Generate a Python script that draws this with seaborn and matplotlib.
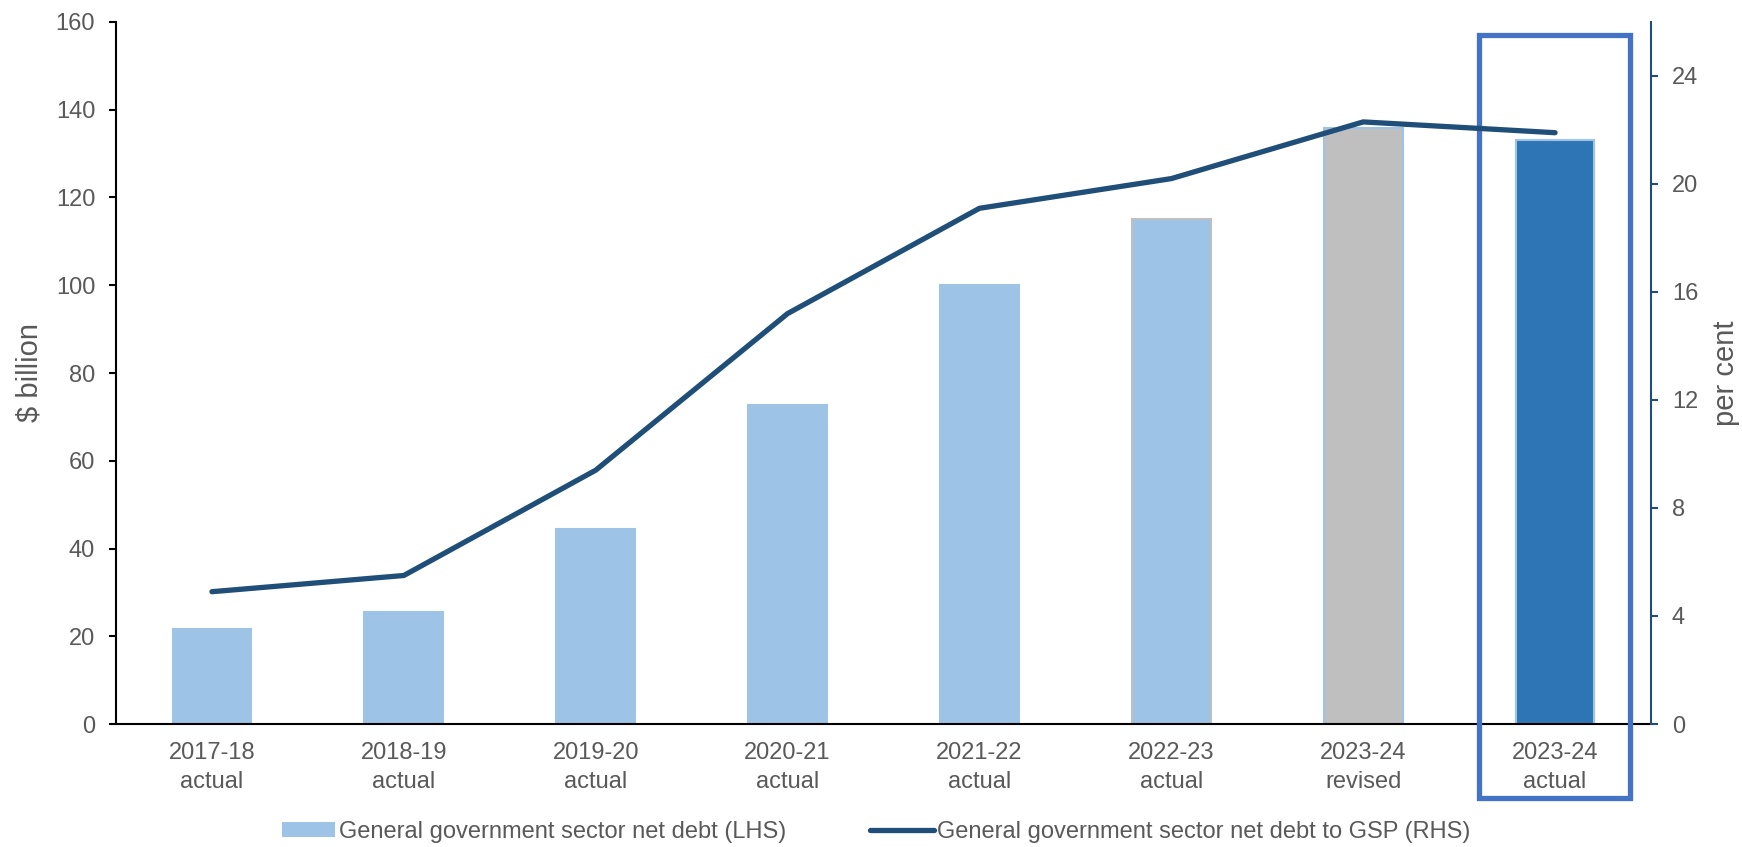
import numpy as np
import pandas as pd
import matplotlib
matplotlib.use("Agg")
import matplotlib.pyplot as plt
import matplotlib.transforms as mtransforms
from matplotlib.patches import Rectangle, Patch
from matplotlib.lines import Line2D
from matplotlib.ticker import FixedLocator, MultipleLocator
import seaborn as sns

# ---- data -------------------------------------------------------------
years = ["2017-18", "2018-19", "2019-20", "2020-21", "2021-22", "2022-23", "2023-24", "2023-24"]
status = ["actual", "actual", "actual", "actual", "actual", "actual", "revised", "actual"]
net_debt_bn = [21.7, 25.6, 44.4, 72.8, 100.0, 115.0, 135.9, 133.1]      # $ billion (LHS)
net_debt_to_gsp = [4.9, 5.5, 9.4, 15.2, 19.1, 20.2, 22.3, 21.9]          # per cent (RHS)

bar_label = "General government sector net debt (LHS)"
line_label = "General government sector net debt to GSP (RHS)"

# ---- style ------------------------------------------------------------
LIGHT_BLUE = "#9DC3E6"
GREY = "#BFBFBF"
MID_BLUE = "#2E75B6"
DARK_BLUE = "#1F4E79"
BOX_BLUE = "#4472C4"
TEXT = "#595959"
FS = 17

bar_fill = [LIGHT_BLUE] * 6 + [GREY, MID_BLUE]
bar_edge = [LIGHT_BLUE] * 5 + [GREY, LIGHT_BLUE, LIGHT_BLUE]

sns.set_theme(style="white")
plt.rcParams["font.family"] = ["Liberation Sans", "DejaVu Sans"]
plt.rcParams["text.color"] = TEXT
plt.rcParams["axes.labelcolor"] = TEXT
plt.rcParams["xtick.color"] = TEXT
plt.rcParams["ytick.color"] = TEXT

labels = [f"{y}\n{s}" for y, s in zip(years, status)]
df = pd.DataFrame({"period": labels, "debt": net_debt_bn, "ratio": net_debt_to_gsp})

W, H = 1742, 847
fig = plt.figure(figsize=(W / 100, H / 100), dpi=100)
left, right, bottom, top = 116, 1651, 724, 22
ax = fig.add_axes([left / W, 1 - bottom / H, (right - left) / W, (bottom - top) / H])

# bars on the left axis
sns.barplot(data=df, x="period", y="debt", hue="period", palette=bar_fill,
            width=0.41, saturation=1, legend=False, linewidth=1.5, ax=ax)
for patch, ec in zip(ax.patches, bar_edge):
    patch.set_edgecolor(ec)

ax.set_xlim(-0.5, len(labels) - 0.5)
ax.set_ylim(0, 160)
ax.yaxis.set_major_locator(MultipleLocator(20))
ax.set_xlabel("")
ax.set_ylabel("$ billion", fontsize=21)
ax.yaxis.label.set_va("center")
ax.yaxis.set_label_coords((30 - left) / (right - left), 0.5)

# category boundaries as minor ticks, labels centred under the bars
ax.set_xticks(np.arange(len(labels)))
ax.set_xticklabels(labels, linespacing=1.4)
ax.xaxis.set_minor_locator(FixedLocator(np.arange(-0.5, len(labels), 1.0)))
ax.tick_params(axis="x", which="major", length=0, pad=13, labelsize=FS)
ax.tick_params(axis="x", which="minor", length=5, width=1.5, color="black", direction="out")
ax.tick_params(axis="y", which="major", length=5, width=1.5, color="black", direction="out",
               pad=10, labelsize=FS, left=True)

for side in ["top", "right"]:
    ax.spines[side].set_visible(False)
for side in ["left", "bottom"]:
    ax.spines[side].set_color("black")
    ax.spines[side].set_linewidth(1.5)

# ratio line on the right axis
ax2 = ax.twinx()
sns.lineplot(x=np.arange(len(labels)), y=net_debt_to_gsp, color=DARK_BLUE,
             linewidth=3.8, solid_capstyle="round", ax=ax2)
ax2.set_ylim(0, 26)
ax2.yaxis.set_major_locator(FixedLocator(np.arange(0, 25, 4)))
ax2.set_ylabel("per cent", fontsize=21, rotation=90)
ax2.yaxis.label.set_va("center")
ax2.yaxis.set_label_coords((1726 - left) / (right - left), 0.5)
ax2.tick_params(axis="y", length=5, width=1.5, color=DARK_BLUE, direction="out",
                pad=10, labelsize=FS, right=True)
for side in ["top", "left", "bottom"]:
    ax2.spines[side].set_visible(False)
ax2.spines["right"].set_color(DARK_BLUE)
ax2.spines["right"].set_linewidth(1.5)
ax2.grid(False)
ax.grid(False)

# highlight frame around the latest actual
trans = mtransforms.blended_transform_factory(ax.transData, ax.transAxes)
x0, x1 = 6.601, 7.393
y0, y1 = -0.1054, 0.9815
ax.add_patch(Rectangle((x0, y0), x1 - x0, y1 - y0, transform=trans, fill=False,
                       edgecolor=BOX_BLUE, linewidth=3.8, clip_on=False, zorder=5))

# legends
fig.legend(handles=[Patch(facecolor=LIGHT_BLUE, edgecolor="none")], labels=[bar_label],
           loc="center left", bbox_to_anchor=(282 / W, 1 - 832 / H), frameon=False,
           fontsize=FS, handlelength=2.25, handleheight=0.56, handletextpad=0.15,
           borderpad=0, borderaxespad=0, labelcolor=TEXT)
fig.legend(handles=[Line2D([], [], color=DARK_BLUE, linewidth=3.8, solid_capstyle="round")],
           labels=[line_label], loc="center left", bbox_to_anchor=(870 / W, 1 - 832 / H),
           frameon=False, fontsize=FS, handlelength=2.7, handletextpad=0.15,
           borderpad=0, borderaxespad=0, labelcolor=TEXT)

fig.savefig("out.png", dpi=100)
